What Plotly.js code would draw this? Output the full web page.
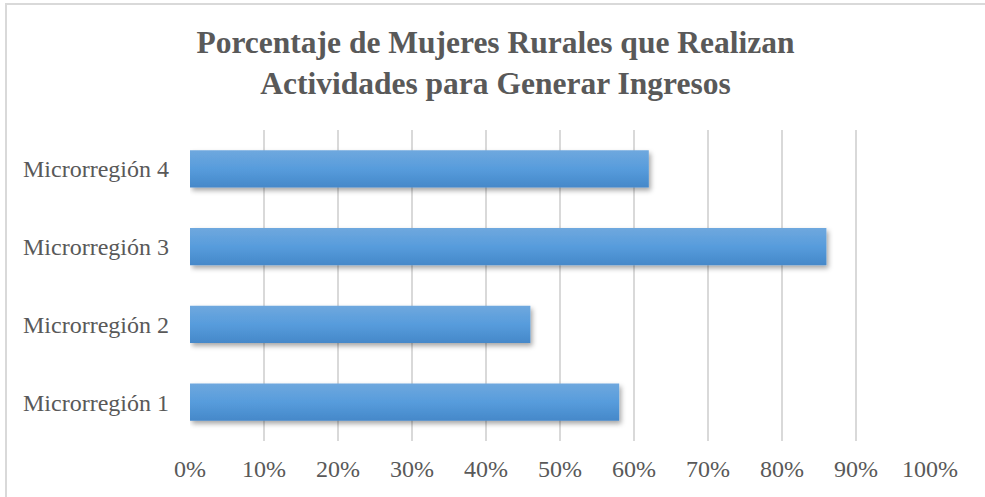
<!DOCTYPE html>
<html>
<head>
<meta charset="utf-8">
<script src="https://cdn.plot.ly/plotly-3.0.1.min.js"></script>
<style>
  html, body { margin: 0; padding: 0; background: #fff; overflow: hidden; }
  #wrap { position: relative; width: 985px; height: 497px; }
  #chart { width: 985px; height: 497px; }
  /* chart area border, cropped on the right and bottom like the picture */
  #frame {
    position: absolute; left: 5px; top: 3px; width: 1200px; height: 800px;
    border-left: 2px solid #d9d9d9; border-top: 2px solid #d9d9d9;
    pointer-events: none;
  }
</style>
</head>
<body>
<div id="wrap">
  <div id="chart"></div>
  <div id="frame"></div>
</div>
<script>
// ---- data ----
const regions = ["Microrregión 1", "Microrregión 2", "Microrregión 3", "Microrregión 4"];
const shares  = [0.58, 0.46, 0.86, 0.62];

const titleLines = [
    "Porcentaje de Mujeres Rurales que Realizan",
    "Actividades para Generar Ingresos"
];

const serif = "'Liberation Serif', 'Times New Roman', serif";
const grey  = "#595959";

const trace = {
    type: "bar",
    orientation: "h",
    y: regions,
    x: shares,
    marker: { color: "#5599d8", line: { width: 0 } },
    hoverinfo: "none"
};

const layout = {
    width: 985,
    height: 497,
    margin: { l: 190, r: 55, t: 130, b: 56 },
    paper_bgcolor: "#ffffff",
    plot_bgcolor: "#ffffff",
    showlegend: false,
    bargap: 0.52,
    title: {
        text: titleLines.join("<br>"),
        font: { family: serif, size: 31.5, color: grey, weight: "bold" },
        xref: "container",
        x: 0.503,
        xanchor: "center",
        yref: "container",
        y: 0.894,
        yanchor: "top"
    },
    xaxis: {
        range: [0, 1],
        dtick: 0.1,
        tick0: 0,
        tickformat: ".0%",
        showgrid: true,
        gridcolor: "#d9d9d9",
        gridwidth: 2,
        zeroline: false,
        showline: false,
        ticks: "",
        ticklabelstandoff: 11,
        tickfont: { family: serif, size: 24, color: grey },
        fixedrange: true
    },
    yaxis: {
        type: "category",
        showgrid: false,
        zeroline: false,
        showline: false,
        ticks: "",
        ticklabelstandoff: 20,
        tickfont: { family: serif, size: 24, color: grey },
        fixedrange: true
    }
};

// gradient fill and soft shadow like the Office bar style
function styleBars(gd) {
    const svg = gd.querySelector("svg.main-svg");
    const NS = "http://www.w3.org/2000/svg";
    let defs = svg.querySelector("defs");
    if (!defs) { defs = document.createElementNS(NS, "defs"); svg.prepend(defs); }

    const grad = document.createElementNS(NS, "linearGradient");
    grad.setAttribute("id", "barGrad");
    grad.setAttribute("x1", "0"); grad.setAttribute("y1", "0");
    grad.setAttribute("x2", "0"); grad.setAttribute("y2", "1");
    [["0%", "#6fa8de"], ["50%", "#579cdc"], ["100%", "#4588c9"]].forEach(([o, c]) => {
        const s = document.createElementNS(NS, "stop");
        s.setAttribute("offset", o);
        s.setAttribute("stop-color", c);
        grad.appendChild(s);
    });
    defs.appendChild(grad);

    const filt = document.createElementNS(NS, "filter");
    filt.setAttribute("id", "barShadow");
    filt.setAttribute("x", "-5%"); filt.setAttribute("y", "-20%");
    filt.setAttribute("width", "115%"); filt.setAttribute("height", "160%");
    const ds = document.createElementNS(NS, "feDropShadow");
    ds.setAttribute("dx", "2"); ds.setAttribute("dy", "3");
    ds.setAttribute("stdDeviation", "2.5");
    ds.setAttribute("flood-color", "#000");
    ds.setAttribute("flood-opacity", "0.35");
    filt.appendChild(ds);
    defs.appendChild(filt);

    gd.querySelectorAll(".barlayer .point path").forEach(p => {
        p.style.fill = "url(#barGrad)";
        p.setAttribute("filter", "url(#barShadow)");
    });
}

const gd = document.getElementById("chart");
Plotly.newPlot(gd, [trace], layout, { displayModeBar: false, staticPlot: true })
    .then(() => styleBars(gd));
</script>
</body>
</html>
